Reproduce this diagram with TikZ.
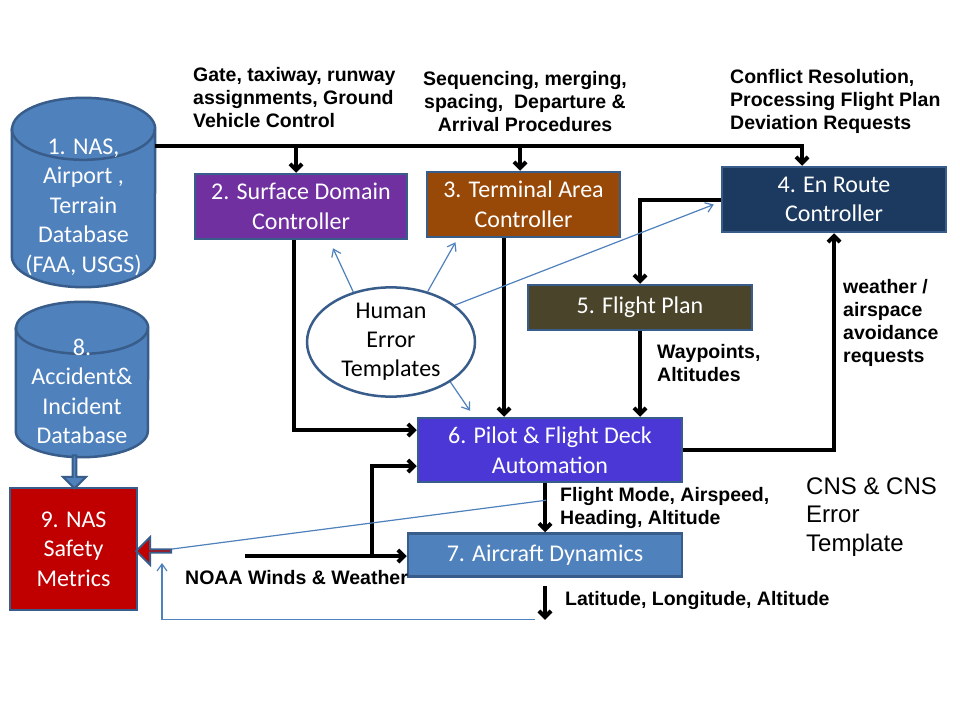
\documentclass[tikz,border=0pt]{standalone}
\usepackage{fontspec}
\setmainfont{Carlito}
\newfontfamily\arialfont{Liberation Sans}
\usepackage{tikz}
\usetikzlibrary{arrows.meta,shapes.geometric,shapes.arrows}
\definecolor{ppblue}{HTML}{4F81BD}
\definecolor{ppedge}{HTML}{385D8A}
\definecolor{surfpurple}{HTML}{7030A0}
\definecolor{termbrown}{HTML}{984807}
\definecolor{enroutenavy}{HTML}{1C3A60}
\definecolor{planolive}{HTML}{4A452A}
\definecolor{pilotviolet}{HTML}{4A37D6}
\definecolor{metricred}{HTML}{C00000}

\begin{document}
\begin{tikzpicture}[x=1pt,y=-1pt,
  box/.style={draw=ppedge,line width=2.5pt,text=white,align=center,inner sep=0pt,
    font=\fontsize{24}{29.5}\selectfont},
  dbbody/.style={inner sep=0pt},
  drum/.style={draw=ppedge,fill=ppblue,line width=2.5pt},
  dbtext/.style={text=white,align=center,inner sep=0pt,font=\fontsize{24}{29.5}\selectfont},
  lab/.style={align=left,anchor=west,inner sep=0pt,font=\fontsize{19.5}{23}\arialfont\bfseries},
  flow/.style={line width=4pt,-{Straight Barb[length=6pt,width=12pt]}},
  err/.style={ppblue,line width=1.2pt,-{Straight Barb[length=7pt,width=10pt]}},
  blockarr/.style={single arrow,line width=2pt,draw=ppedge,minimum width=24pt,single arrow head extend=6pt,inner sep=0pt}]
\fill[white] (0,0) rectangle (960,720);
\useasboundingbox (0,0) rectangle (960,720);

\node[dbbody,minimum width=143pt,minimum height=189pt] (db1) at (83.5,192.5) {};
\draw[drum] ([shift={(0,31)}]db1.north west) -- ([shift={(0,-31)}]db1.south west)
  arc[start angle=180,end angle=360,x radius=71.5pt,y radius=31pt]
  -- ([shift={(0,31)}]db1.north east)
  arc[start angle=0,end angle=180,x radius=71.5pt,y radius=31pt] -- cycle;
\draw[drum,fill=none] ([shift={(0,31)}]db1.north west)
  arc[start angle=180,end angle=360,x radius=71.5pt,y radius=31pt];
\node[dbtext] (db1t) at ([shift={(0,14.5)}]db1.center) {1. NAS,\\Airport ,\\Terrain\\Database\\(FAA, USGS)};

\node[dbbody,minimum width=132pt,minimum height=155pt] (db8) at (82,379.5) {};
\draw[drum] ([shift={(0,26)}]db8.north west) -- ([shift={(0,-26)}]db8.south west)
  arc[start angle=180,end angle=360,x radius=66pt,y radius=26pt]
  -- ([shift={(0,26)}]db8.north east)
  arc[start angle=0,end angle=180,x radius=66pt,y radius=26pt] -- cycle;
\draw[drum,fill=none] ([shift={(0,26)}]db8.north west)
  arc[start angle=180,end angle=360,x radius=66pt,y radius=26pt];
\node[dbtext] (db8t) at ([shift={(0,12)}]db8.center) {8.\\Accident\&\\Incident\\Database};

\node[box,fill=surfpurple,minimum width=212pt,minimum height=65pt] (b2) at (301,206.5) {2. Surface Domain\\Controller};
\node[box,fill=termbrown,minimum width=193pt,minimum height=65pt] (b3) at (523.5,204.5) {3. Terminal Area\\Controller};
\node[box,fill=enroutenavy,minimum width=224pt,minimum height=65pt] (b4) at (834,199.5) {4. En Route\\Controller};
\node[box,fill=planolive,minimum width=224pt,minimum height=45pt] (b5) at (640,307.5) {5. Flight Plan};
\node[box,fill=pilotviolet,minimum width=264pt,minimum height=64pt] (b6) at (550,450) {6. Pilot \& Flight Deck\\Automation};
\node[box,fill=ppblue,minimum width=274pt,minimum height=43pt] (b7) at (545,555) {7. Aircraft Dynamics};
\node[box,fill=metricred,minimum width=127pt,minimum height=122pt] (b9) at (73.5,549) {9. NAS\\Safety\\Metrics};

\node[ellipse,draw=ppedge,fill=white,line width=2.5pt,minimum width=168pt,minimum height=96pt,inner sep=0pt,
  align=center,font=\fontsize{24}{29}\selectfont] (hum) at (391,342) {Human\\Error\\Templates};

\node[blockarr,fill=ppblue,shape border rotate=270,minimum height=33pt,minimum width=23pt,
  single arrow head extend=5.5pt] (dbarr) at (74.5,471) {};
\node[blockarr,fill=metricred,shape border rotate=180,minimum height=35pt,minimum width=28pt,
  single arrow head extend=7.5pt] (redarr) at (154.5,551) {};

\node[lab] (gatelab) at (193,98) {Gate, taxiway, runway\\assignments, Ground\\Vehicle Control};
\node[lab,align=center,anchor=center] (seqlab) at (525,101.5) {Sequencing, merging,\\spacing, \ Departure \&\\Arrival Procedures};
\node[lab] (conflab) at (730,101) {Conflict Resolution,\\Processing Flight Plan\\Deviation Requests};
\node[lab] (waylab) at (657,363) {Waypoints,\\Altitudes};
\node[lab] (wxlab) at (843,323) {weather /\\airspace\\avoidance\\requests};
\node[lab] (modelab) at (560,508) {Flight Mode, Airspeed,\\Heading, Altitude};
\node[lab] (noaalab) at (185,578) {NOAA Winds \& Weather};
\node[lab] (latlab) at (565,600) {Latitude, Longitude, Altitude};
\node[align=left,anchor=west,inner sep=0pt,font=\fontsize{24}{28.5}\arialfont] (cnslab) at (806,517) {CNS \& CNS\\Error\\Template};

\coordinate (bus) at (0,146);
\coordinate (b2in) at ([shift={(-5,0)}]b2.north);
\coordinate (b3in) at ([shift={(-3.5,0)}]b3.north);
\coordinate (b4in) at ([shift={(-32,0)}]b4.north);
\draw[flow] (db1.east |- bus) -| (b4in);
\draw[flow] (b2in |- bus) -- (b2in);
\draw[flow] (b3in |- bus) -- (b3in);

\coordinate (b2out) at ([shift={(-7,0)}]b2.south);
\coordinate (b6inl) at ([shift={(0,-20)}]b6.west);
\draw[flow] (b2out) |- (b6inl);
\coordinate (b3out) at ([shift={(-19.5,0)}]b3.south);
\draw[flow] (b3out) -- (b3out |- b6.north);
\draw[flow] (b4.west) -| (b5.north);
\draw[flow] (b5.south) -- (b5.south |- b6.north);
\draw[flow] (b6.east) -| (b4.south);
\coordinate (b6out) at ([shift={(-5,0)}]b6.south);
\draw[flow] (b6out) -- (b6out |- b7.north);

\coordinate (noaa) at (245,556);
\coordinate (noaabr) at (372,556);
\coordinate (b6inw) at ([shift={(0,16)}]b6.west);
\draw[flow] (noaa) -- (noaa -| b7.west);
\draw[flow] (noaabr) |- (b6inw);
\coordinate (b7out) at ([shift={(0,8)}]b7.south);
\coordinate (posend) at ([shift={(0,42)}]b7.south);
\draw[flow] (b7out) -- (posend);

\draw[ppblue,line width=1.2pt] ([shift={(0,-2)}]redarr.tail) -- ([shift={(-4,17)}]b6.south);
\draw[err] ([shift={(-10,0)}]posend) -| ([shift={(7.5,12)}]redarr.center);

\draw[err] (hum.127) -- ([shift={(32,8)}]b2.south);
\draw[err] (hum.54) -- ([shift={(-68,4)}]b3.south);
\draw[err] (hum.30) -- ([shift={(-7,5)}]b4.west);
\draw[err] (hum.-34) -- ([shift={(-80,-6)}]b6.north);
\end{tikzpicture}
\end{document}
